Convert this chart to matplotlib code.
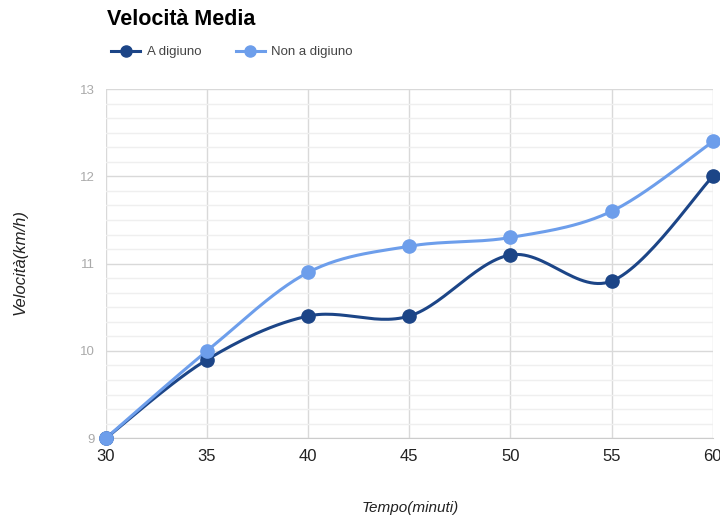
import numpy as np
import matplotlib.pyplot as plt
from matplotlib.ticker import MultipleLocator
from matplotlib.lines import Line2D

# data
tempo = [30, 35, 40, 45, 50, 55, 60]
a_digiuno = [9.0, 9.9, 10.4, 10.4, 11.1, 10.8, 12.0]
non_a_digiuno = [9.0, 10.0, 10.9, 11.2, 11.3, 11.6, 12.4]
series_names = ['A digiuno', 'Non a digiuno']
colors = ['#1c4587', '#6d9eeb']

plt.rcParams['font.family'] = ['Liberation Sans', 'DejaVu Sans']


def smooth(x, y, n=30):
    # catmull-rom style curve through the points (like google's curveType function)
    x = np.asarray(x, float)
    y = np.asarray(y, float)
    px = np.concatenate([[x[0]], x, [x[-1]]])
    py = np.concatenate([[y[0]], y, [y[-1]]])
    xs, ys = [], []
    t = np.linspace(0, 1, n)
    for i in range(1, len(px) - 2):
        p0, p1, p2, p3 = px[i-1], px[i], px[i+1], px[i+2]
        q0, q1, q2, q3 = py[i-1], py[i], py[i+1], py[i+2]
        s = 0.5
        m1x, m2x = s * (p2 - p0), s * (p3 - p1)
        m1y, m2y = s * (q2 - q0), s * (q3 - q1)
        h00 = 2*t**3 - 3*t**2 + 1
        h10 = t**3 - 2*t**2 + t
        h01 = -2*t**3 + 3*t**2
        h11 = t**3 - t**2
        xs.append(h00*p1 + h10*m1x + h01*p2 + h11*m2x)
        ys.append(h00*q1 + h10*m1y + h01*q2 + h11*m2y)
    return np.concatenate(xs), np.concatenate(ys)


fig = plt.figure(figsize=(7.2, 5.18), dpi=100)
ax = fig.add_axes([0.147, 0.154, 0.843, 0.674])

for vals, name, c in zip([a_digiuno, non_a_digiuno], series_names, colors):
    sx, sy = smooth(tempo, vals)
    ax.plot(sx, sy, color=c, lw=2.2, zorder=3, solid_capstyle='round')
    ax.plot(tempo, vals, 'o', color=c, ms=9.5, zorder=4, label=name, clip_on=False)

# legend handles with line + marker
handles = [Line2D([], [], color=c, lw=2.2, marker='o', ms=8) for c in colors]
fig.legend(handles, series_names, loc='center left', bbox_to_anchor=(0.138, 0.899),
           ncol=2, frameon=False, fontsize=9.5, handlelength=2.2, handletextpad=0.5,
           columnspacing=2.6, labelcolor='#444444')

ax.set_xlim(30, 60)
ax.set_ylim(9, 13)
ax.set_xticks(tempo)
ax.yaxis.set_major_locator(MultipleLocator(1))
ax.yaxis.set_minor_locator(MultipleLocator(1/6))
ax.grid(True, which='major', color='#d9d9d9', lw=1)
ax.grid(True, which='minor', axis='y', color='#efefef', lw=1)
ax.tick_params(which='both', length=0)
ax.tick_params(axis='y', labelsize=9.5, labelcolor='#aaaaaa', pad=8)
ax.tick_params(axis='x', labelsize=12, labelcolor='#222222', pad=8)
for s in ax.spines.values():
    s.set_visible(False)
ax.spines['bottom'].set_visible(True)
ax.spines['bottom'].set_color('#cccccc')

fig.text(0.148, 0.962, 'Velocità Media', fontsize=15.5, fontweight='bold', ha='left', va='center')
fig.text(0.028, 0.495, 'Velocità(km/h)', fontsize=12, style='italic', rotation=90,
         ha='center', va='center', color='#222222')
fig.text(0.57, 0.02, 'Tempo(minuti)', fontsize=11, style='italic', ha='center',
         va='center', color='#222222')

fig.savefig('out.png', dpi=100)
